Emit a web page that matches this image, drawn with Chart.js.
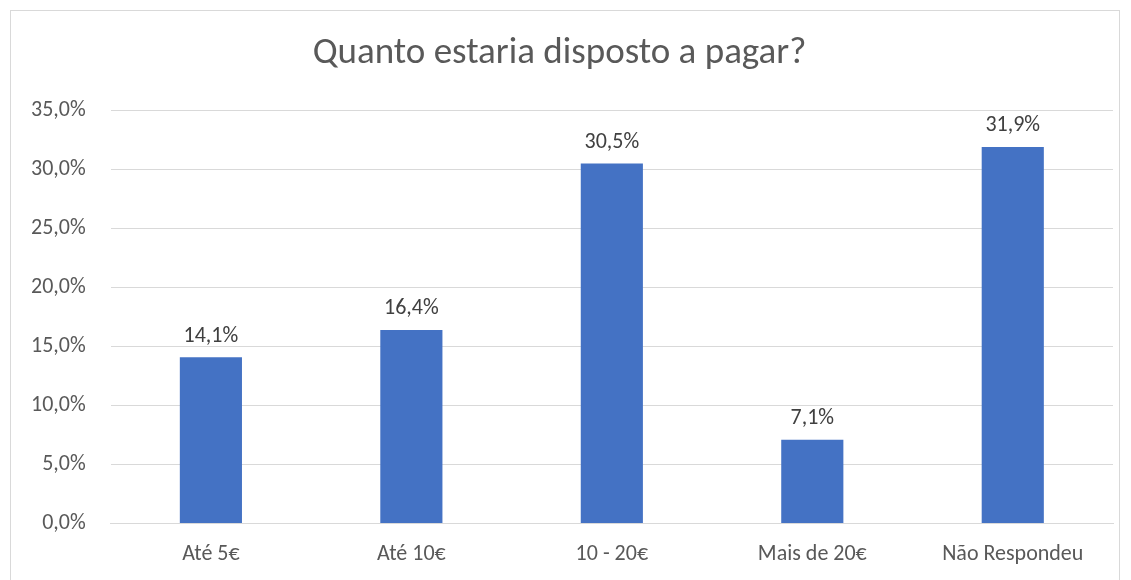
<!DOCTYPE html>
<html>
<head>
<meta charset="utf-8">
<script src="https://cdn.jsdelivr.net/npm/chart.js@4"></script>
<style>
  html, body { margin: 0; padding: 0; background: #fff; }
  #wrap { position: absolute; left: 10px; top: 10px; width: 1110px; height: 580px; border: 1px solid #d9d9d9; box-sizing: border-box; border-bottom: none; }
  canvas { position: absolute; left: 0; top: 0; }
</style>
</head>
<body>
<div id="wrap"></div>
<canvas id="chart" width="1131" height="580"></canvas>
<script>
const categories = ['Até 5€', 'Até 10€', '10 - 20€', 'Mais de 20€', 'Não Respondeu'];
const values = [14.1, 16.4, 30.5, 7.1, 31.9];

const fmt = v => v.toFixed(1).replace('.', ',') + '%';
const FONT = 'Calibri, Carlito, "Open Sans", sans-serif';

const barLabels = {
  id: 'barLabels',
  afterDatasetsDraw(chart) {
    const ctx = chart.ctx;
    const meta = chart.getDatasetMeta(0);
    ctx.save();
    ctx.font = '22px ' + FONT;
    ctx.fillStyle = '#404040';
    ctx.textAlign = 'center';
    ctx.textBaseline = 'bottom';
    meta.data.forEach((bar, i) => {
      ctx.fillText(fmt(values[i]), bar.x, bar.y - 10);
    });
    ctx.restore();
  }
};

new Chart(document.getElementById('chart').getContext('2d'), {
  type: 'bar',
  data: {
    labels: categories,
    datasets: [{
      data: values,
      backgroundColor: '#4472c4',
      categoryPercentage: 1,
      barPercentage: 0.31
    }]
  },
  options: {
    responsive: false,
    animation: false,
    layout: { padding: { left: 6, right: 18, top: 0, bottom: 2 } },
    plugins: {
      legend: { display: false },
      tooltip: { enabled: false },
      title: {
        display: true,
        text: 'Quanto estaria disposto a pagar?',
        color: '#595959',
        font: { size: 37, family: FONT, weight: 'normal' },
        padding: { top: 32, bottom: 34 }
      }
    },
    scales: {
      x: {
        grid: { display: false },
        border: { color: '#d9d9d9' },
        ticks: {
          color: '#595959',
          font: { size: 22, family: FONT },
          padding: 10
        }
      },
      y: {
        min: 0,
        max: 35,
        ticks: {
          stepSize: 5,
          color: '#595959',
          padding: 25,
          font: { size: 22, family: FONT },
          callback: v => fmt(v)
        },
        grid: { color: '#d9d9d9', drawTicks: false },
        border: { display: false }
      }
    }
  },
  plugins: [barLabels]
});
</script>
</body>
</html>
